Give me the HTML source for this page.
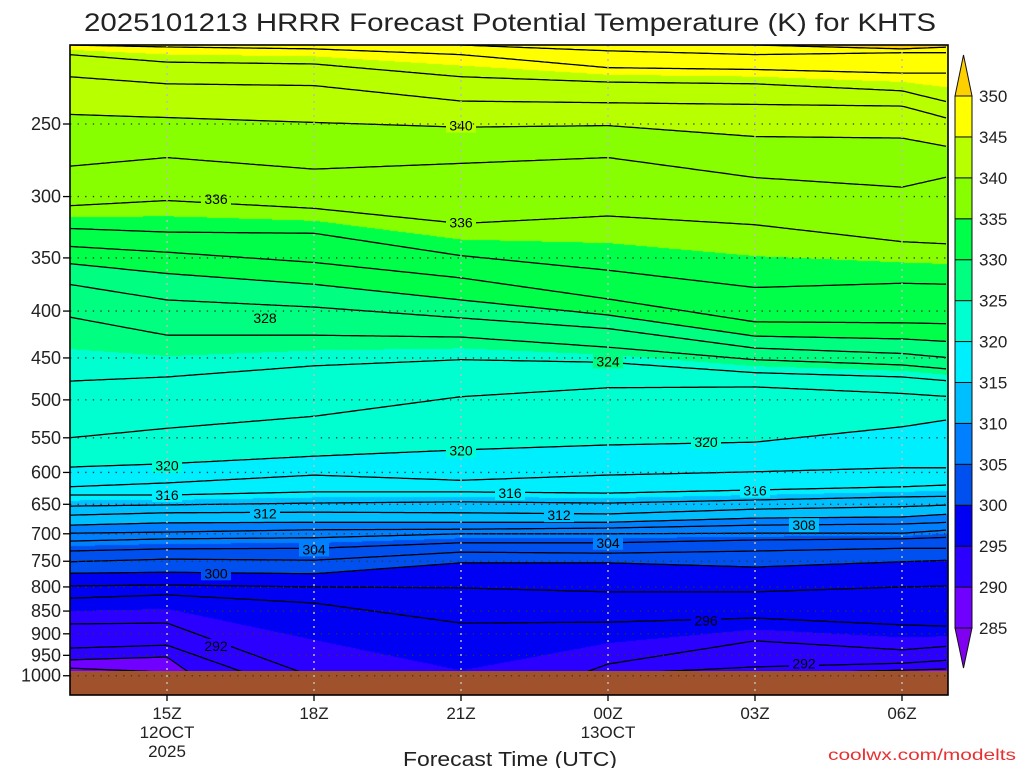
<!DOCTYPE html>
<html><head><meta charset="utf-8">
<style>
html,body{margin:0;padding:0;background:#fff;width:1024px;height:768px;overflow:hidden}
#wrap{position:relative;width:1024px;height:768px}
canvas{position:absolute;left:70px;top:45px}
svg{position:absolute;left:0;top:0}
text{font-family:"Liberation Sans",sans-serif}
</style></head>
<body>
<div id="wrap">
<canvas id="fill" width="878" height="626"></canvas>
<svg id="svg" width="1024" height="768"></svg>
</div>
<script>
// ---- data ----
const times=[13,15,18,21,24,27,30,31]; // hours since 00Z 12 Oct
const pTicks=[250,300,350,400,450,500,550,600,650,700,750,800,850,900,950,1000];
const tTicks=[15,18,21,24,27,30];
const tLabels=["15Z","18Z","21Z","00Z","03Z","06Z"];
const cbLevels=[285,290,295,300,305,310,315,320,325,330,335,340,345,350];
const cbColors=["#7000ff","#2c00ff","#0000f2","#0050f0","#0080ff","#00bfff","#00efff","#00ffd0","#00ff80","#00ff48","#88ff00","#b8ff00","#ffff00"];
// isentrope pressures (hPa) at each time
const th286=[1011,1030,1300,1300,1300,1300,1300,1300];
const th288=[981,991,1260,1260,1260,1260,1260,1260];
const th290=[961,954,1236,1236,1236,996,986,983];
const th292=[933,926,1055,1118,996,978,969,961];
const th294=[878,876,1003,1112,971,916,937,928];
const th296=[823,816,833,876,874,865,880,883];
const th298=[798,796,800,802,810,810,800,798];
const th300=[773,771,774,753,753,761,751,748];
const th302=[751,746,748,733,735,731,726,726];
const th304=[731,727,726,716,716,711,709,706];
const th306=[713,709,707,700,700,699,699,693];
const th308=[699,697,693,692,690,685,683,680];
const th310=[685,681,680,680,680,673,671,666];
const th312=[668,664,663,664,666,658,654,651];
const th314=[653,651,648,646,648,643,638,637];
const th316=[635,635,630,630,632,627,622,619];
const th318=[622,616,604,612,604,599,593,593];
const th320=[592,587,576,567,560,556,535,525];
const th322=[550,537,521,496,485,484,492,496];
const th324=[477,472,459,452,455,467,472,477];
const th326=[406,425,425,427,438,452,458,463];
const th328=[374,389,396,407,418,439,445,450];
const th330=[355,364,374,389,404,426,429,432];
const th332=[340,345,354,368,388,411,412,413];
const th334=[325,328,329,348,361,377,373,374];
const th336=[307,303,309,321,315,322,336,338];
const th338=[278,272,280,276,272,286,293,285];
const th340=[244,246,249,252,251,258,259,265];
const th342=[222,226,227,236,237,238,239,247];
const th344=[210,214,215,222,225,226,230,237];
const th346=[205,206,207,210,217,218,220,220];
const th348=[197,197,200,205,208,210,209,209];
const th350=[190,190,193,197,202,205,207,206];
const isoLevels=[286,288,290,292,294,296,298,300,302,304,306,308,310,312,314,316,318,320,322,324,326,328,330,332,334,336,338,340,342,344,346,348,350];
const isoP=[th286,th288,th290,th292,th294,th296,th298,th300,th302,th304,th306,th308,th310,th312,th314,th316,th318,th320,th322,th324,th326,th328,th330,th332,th334,th336,th338,th340,th342,th344,th346,th348,th350];
const labelVals=["340","336","336","328","324","320","320","320","316","316","316","312","312","308","304","304","300","296","292","292"];
const labelTimes=[21,16,21,17,24,15,21,26,15,22,27,17,23,28,18,24,16,26,16,28];
const labelP=[251,302,320,407,454,590,568,556,635,632,628,665,668,685,728,716,773,870,928,970];

// ---- axes ----
const PL=70,PR=948,PT=45,PB=695,GROUND=671;
const X=h=>167+(h-15)*49;
const Y=p=>124+398*Math.log(p/250);
const NS="http://www.w3.org/2000/svg";
const svg=document.getElementById('svg');
function mk(tag,attrs,parent){const e=document.createElementNS(NS,tag);for(const k in attrs)e.setAttribute(k,attrs[k]);(parent||svg).appendChild(e);return e;}

// ---- fill ----
function isoYatX(px){
  const h=15+(px-167)/49;
  let i=0;while(i<times.length-2&&h>times[i+1])i++;
  const t=(h-times[i])/(times[i+1]-times[i]);
  return isoP.map(a=>Y(Math.exp(Math.log(a[i])+(Math.log(a[i+1])-Math.log(a[i]))*t)));
}
function hex(c){return [parseInt(c.substr(1,2),16),parseInt(c.substr(3,2),16),parseInt(c.substr(5,2),16)];}
const rgb=cbColors.map(hex);
const above=hex("#ffcc00"),below=hex("#8000f0");
const cv=document.getElementById('fill'),ctx=cv.getContext('2d');
const W=cv.width,H=cv.height,img=ctx.createImageData(W,H);
for(let c=0;c<W;c++){
  const ys=isoYatX(PL+c);
  for(let r=0;r<H;r++){
    const y=PT+r+0.5;
    let th;
    let k=0;while(k<ys.length&&ys[k]>y)k++;
    if(k===0)th=285;else if(k>=ys.length)th=352;
    else{const t=(ys[k-1]-y)/(ys[k-1]-ys[k]);th=isoLevels[k-1]+t*(isoLevels[k]-isoLevels[k-1]);}
    let col;if(th>=350)col=above;else if(th<285)col=below;else col=rgb[Math.floor((th-285)/5)];
    const o=(r*W+c)*4;img.data[o]=col[0];img.data[o+1]=col[1];img.data[o+2]=col[2];img.data[o+3]=255;
  }
}
ctx.putImageData(img,0,0);
function colorAt(x,y){
  const c=Math.max(0,Math.min(W-1,Math.round(x-PL))),r=Math.max(0,Math.min(H-1,Math.round(y-PT)));
  const o=(r*W+c)*4;return `rgb(${img.data[o]},${img.data[o+1]},${img.data[o+2]})`;
}

// ---- svg ----
const defs=mk('defs',{});
const cp=mk('clipPath',{id:'plotclip'},defs);
mk('rect',{x:PL,y:PT,width:PR-PL,height:GROUND-PT},cp);
const ground=mk('rect',{x:PL,y:GROUND,width:PR-PL,height:PB-GROUND,fill:'#a0522d'});



// contours
const cg=mk('g',{'clip-path':'url(#plotclip)'});


isoLevels.forEach((lv,li)=>{
  let d='';
  for(let px=PL;px<=PR;px+=3){const y=isoYatX(px)[li];d+=(d?'L':'M')+px+','+y.toFixed(1);}
  const p=mk('path',{d:d,fill:'none',stroke:'#000','stroke-width':1.3},cg);
  
  
});
// labels with gap
labelVals.forEach((v,i)=>{
  const x=X(labelTimes[i]),y=Y(labelP[i]);
  const bg=mk('rect',{x:x-15,y:y-7,width:30,height:14,fill:colorAt(x,y-9)},cg);
  
  
  const t=mk('text',{x:x,y:y+5,'text-anchor':'middle','font-size':14,fill:'#000'},cg);
  t.textContent=v;
  
  
});

// grid
pTicks.forEach(p=>{
  const y=Y(p);
  const l=mk('line',{x1:PL,x2:PR,y1:y,y2:y,stroke:'#333','stroke-width':1.3,'stroke-dasharray':'1.3 6.3'});
  
  
  const tk=mk('line',{x1:63,x2:PL,y1:y,y2:y,stroke:'#000','stroke-width':1.3});
  
  
  const t=mk('text',{x:61,y:y+6,'text-anchor':'end','font-size':18,fill:'#222'});
  t.textContent=p;
  
  
});
tTicks.forEach((h,i)=>{
  const x=X(h);
  const l=mk('line',{x1:x,x2:x,y1:PT,y2:PB,stroke:'#bbb','stroke-width':1.5,'stroke-dasharray':'2 5'});
  
  
  const tk=mk('line',{x1:x,x2:x,y1:PB,y2:PB+6,stroke:'#000','stroke-width':1.3});
  
  
  const t=mk('text',{x:x,y:719,'text-anchor':'middle','font-size':17,fill:'#222'});
  t.textContent=tLabels[i];
  
  
});
[[X(15),"12OCT",738],[X(15),"2025",757],[X(24),"13OCT",738]].forEach(a=>{
  const t=mk('text',{x:a[0],y:a[2],'text-anchor':'middle','font-size':17,fill:'#222'});
  t.textContent=a[1];
  
  
});
const frame=mk('rect',{x:PL,y:PT,width:PR-PL,height:PB-PT,fill:'none',stroke:'#000','stroke-width':1.6});



// title etc.
const title=mk('text',{x:84,y:31,'font-size':25,fill:'#222',textLength:852,lengthAdjust:'spacingAndGlyphs'});
title.textContent="2025101213 HRRR Forecast Potential Temperature (K) for KHTS";


const xt=mk('text',{x:403,y:766,'font-size':20,fill:'#222',textLength:214,lengthAdjust:'spacingAndGlyphs'});
xt.textContent="Forecast Time (UTC)";


const cr=mk('text',{x:828,y:760,'font-size':16,fill:'#e83030',textLength:188,lengthAdjust:'spacingAndGlyphs'});
cr.textContent="coolwx.com/modelts";



// colorbar
const CB0=628,CBstep=(628-96)/13,CBx=955,CBw=17;
const cbg=mk('g',{});


cbColors.forEach((c,i)=>{
  const r=mk('rect',{x:CBx,y:CB0-(i+1)*CBstep,width:CBw,height:CBstep,fill:c,stroke:'#111','stroke-width':1},cbg);
  
  
});
const tu=mk('polygon',{points:`${CBx},96 ${CBx+CBw},96 ${CBx+CBw/2},55`,fill:'#ffd000',stroke:'#111','stroke-width':1},cbg);


const td=mk('polygon',{points:`${CBx},628 ${CBx+CBw},628 ${CBx+CBw/2},668`,fill:'#8000f0',stroke:'#111','stroke-width':1},cbg);


cbLevels.forEach((v,i)=>{
  const t=mk('text',{x:979,y:CB0-i*CBstep+6,'font-size':17,fill:'#222'},cbg);
  t.textContent=v;
  
  
});
</script>
</body></html>
